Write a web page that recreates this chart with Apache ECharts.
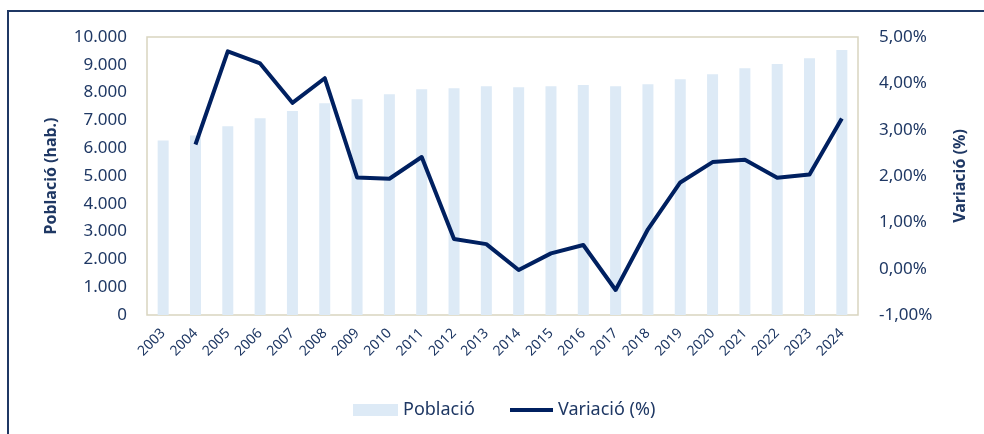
<!DOCTYPE html>
<html>
<head>
<meta charset="utf-8">
<script src="https://cdn.jsdelivr.net/npm/echarts@6/dist/echarts.min.js"></script>
<style>
  html, body { margin: 0; padding: 0; background: #fff; }
  #wrap { position: relative; width: 984px; height: 434px; overflow: hidden; }
  #frame { position: absolute; left: 7px; top: 10px; width: 1100px; height: 600px; border: 2px solid #1F3864; }
  #main { position: absolute; left: 0; top: 0; width: 984px; height: 434px; }
</style>
</head>
<body>
<div id="wrap">
  <div id="frame"></div>
  <div id="main"></div>
</div>
<script>
// anys
const years = ['2003', '2004', '2005', '2006', '2007', '2008', '2009', '2010', '2011', '2012', '2013',
  '2014', '2015', '2016', '2017', '2018', '2019', '2020', '2021', '2022', '2023', '2024'];

// població (hab.)
const poblacio = [6280, 6460, 6790, 7080, 7340, 7620, 7760, 7940, 8120, 8160, 8230,
  8190, 8230, 8270, 8230, 8300, 8480, 8660, 8880, 9030, 9240, 9530];

// variació anual (%)
const variacio = [null, 2.68, 4.69, 4.43, 3.58, 4.11, 1.97, 1.94, 2.41, 0.64, 0.53,
  -0.03, 0.33, 0.51, -0.46, 0.85, 1.86, 2.30, 2.35, 1.96, 2.03, 3.24];

const navy = '#1F3864';
const font = 'Noto Sans';

const myChart = echarts.init(document.getElementById('main'));

const legendText = { color: navy, fontSize: 18, fontFamily: font };

myChart.setOption({
  textStyle: { fontFamily: font },
  animation: false,
  grid: {
    show: true,
    left: 147,
    right: 126,
    top: 37,
    bottom: 119,
    borderColor: '#D9D5C0',
    borderWidth: 1.5
  },
  legend: [
    {
      left: 348,
      top: 396,
      itemWidth: 45,
      itemHeight: 12,
      icon: 'rect',
      textStyle: legendText,
      data: ['Població']
    },
    {
      left: 505,
      top: 396,
      itemWidth: 43,
      itemHeight: 4,
      icon: 'rect',
      textStyle: legendText,
      data: ['Variació (%)']
    }
  ],
  xAxis: {
    type: 'category',
    data: years,
    axisLine: { show: false },
    axisTick: { show: false },
    axisLabel: {
      color: navy,
      fontSize: 14,
      rotate: 45,
      margin: 16,
      interval: 0
    }
  },
  yAxis: [
    {
      type: 'value',
      min: 0,
      max: 10000,
      interval: 1000,
      name: 'Població (hab.)',
      nameLocation: 'middle',
      nameRotate: 90,
      nameGap: 88,
      nameTextStyle: { color: navy, fontSize: 16, fontWeight: 'bold' },
      axisLine: { show: false },
      axisTick: { show: false },
      splitLine: { show: false },
      axisLabel: {
        color: navy,
        fontSize: 17,
        margin: 20,
        formatter(v) {
          return String(v).replace(/\B(?=(\d{3})+(?!\d))/g, '.');
        }
      }
    },
    {
      type: 'value',
      min: -1,
      max: 5,
      interval: 1,
      name: 'Variació (%)',
      nameLocation: 'middle',
      nameRotate: 90,
      nameGap: 94,
      nameTextStyle: { color: navy, fontSize: 16, fontWeight: 'bold' },
      axisLine: { show: false },
      axisTick: { show: false },
      splitLine: { show: false },
      axisLabel: {
        color: navy,
        fontSize: 17,
        margin: 21,
        formatter(v) {
          return v.toFixed(2).replace('.', ',') + '%';
        }
      }
    }
  ],
  series: [
    {
      name: 'Població',
      type: 'bar',
      barWidth: 11,
      itemStyle: { color: '#DDEAF6' },
      data: poblacio
    },
    {
      name: 'Variació (%)',
      type: 'line',
      yAxisIndex: 1,
      symbol: 'none',
      lineStyle: { color: '#002060', width: 4, join: 'round' },
      itemStyle: { color: '#002060' },
      data: variacio
    }
  ]
});
</script>
</body>
</html>
